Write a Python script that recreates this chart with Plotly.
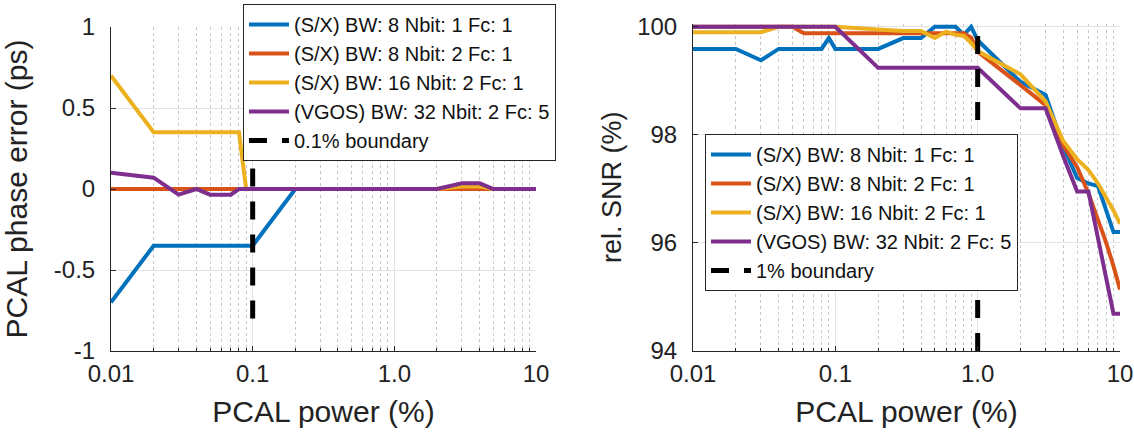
import plotly.graph_objects as go

# ---------------- data ----------------
pcal_power = [0.01, 0.02, 0.03, 0.04, 0.05, 0.06, 0.07, 0.08, 0.09, 0.1,
              0.2, 0.3, 0.4, 0.5, 0.6, 0.7, 0.8, 0.9, 1.0,
              2, 3, 4, 5, 6, 7, 8, 9, 10]

series_names = ["(S/X) BW: 8 Nbit: 1 Fc: 1",
                "(S/X) BW: 8 Nbit: 2 Fc: 1",
                "(S/X) BW: 16 Nbit: 2 Fc: 1",
                "(VGOS) BW: 32 Nbit: 2 Fc: 5"]
series_colors = ["#0072BD", "#D95319", "#EDB120", "#7E2F8E"]

# phase error (ps)
phase_sx8_1 = [-0.70, -0.35, -0.35, -0.35, -0.35, -0.35, -0.35, -0.35, -0.35, -0.35,
               0, 0, 0, 0, 0, 0, 0, 0, 0,
               0, 0, 0, 0, 0, 0, 0, 0, 0]
phase_sx8_2 = [0, 0, 0, 0, 0, 0, 0, 0, 0, 0,
               0, 0, 0, 0, 0, 0, 0, 0, 0,
               0, 0, 0, 0, 0, 0, 0, 0, 0]
phase_sx16_2 = [0.70, 0.35, 0.35, 0.35, 0.35, 0.35, 0.35, 0.35, 0, 0,
                0, 0, 0, 0, 0, 0, 0, 0, 0,
                0, 0.015, 0.015, 0, 0, 0, 0, 0, 0]
phase_vgos = [0.10, 0.07, -0.035, 0, -0.035, -0.035, -0.035, 0, 0, 0,
              0, 0, 0, 0, 0, 0, 0, 0, 0,
              0, 0.035, 0.035, 0, 0, 0, 0, 0, 0]

# relative SNR (%)
snr_sx8_1 = [99.59, 99.59, 99.38, 99.59, 99.59, 99.59, 99.59, 99.59, 99.79, 99.59,
             99.59, 99.79, 99.79, 100.0, 100.0, 100.0, 99.85, 100.0, 99.75,
             98.98, 98.74, 97.78, 97.2, 97.1, 97.05, 96.6, 96.2, 96.2]
snr_sx8_2 = [100.0, 100.0, 100.0, 100.0, 100.0, 99.88, 99.88, 99.88, 99.88, 99.88,
             99.88, 99.88, 99.88, 99.88, 99.88, 99.88, 99.88, 99.8, 99.54,
             98.92, 98.55, 97.8, 97.4, 96.92, 96.45, 96.0, 95.57, 95.14]
snr_sx16_2 = [99.9, 99.9, 99.9, 100.0, 100.0, 100.0, 100.0, 100.0, 100.0, 100.0,
              99.95, 99.92, 99.92, 99.79, 99.91, 99.85, 99.83, 99.7, 99.55,
              99.12, 98.62, 97.88, 97.55, 97.35, 97.1, 96.85, 96.6, 96.35]
snr_vgos = [100.0, 100.0, 100.0, 100.0, 100.0, 100.0, 100.0, 100.0, 100.0, 100.0,
            99.24, 99.24, 99.24, 99.24, 99.24, 99.24, 99.24, 99.24, 99.24,
            98.49, 98.49, 97.6, 96.95, 96.95, 96.1, 95.35, 94.69, 94.69]

boundary_left_x = [0.1, 0.1]
boundary_left_y = [-0.8, 1.0]
boundary_right_x = [1.0, 1.0]
boundary_right_y = [94.0, 99.85]

x_tickvals = [0.01, 0.1, 1.0, 10]
x_ticktext = ["0.01", "0.1", "1.0", "10"]
left_yticks = [-1, -0.5, 0, 0.5, 1]
left_yticktext = ["-1", "-0.5", "0", "0.5", "1"]
right_yticks = [94, 96, 98, 100]

# ---------------- figure ----------------
FONT = "Liberation Sans, Arial, Helvetica, sans-serif"
fig = go.Figure()

phase_series = [phase_sx8_1, phase_sx8_2, phase_sx16_2, phase_vgos]
snr_series = [snr_sx8_1, snr_sx8_2, snr_sx16_2, snr_vgos]

for name, col, ys in zip(series_names, series_colors, phase_series):
    fig.add_trace(go.Scatter(x=pcal_power, y=ys, mode="lines", name=name,
                             line=dict(color=col, width=4),
                             xaxis="x", yaxis="y", legend="legend"))
fig.add_trace(go.Scatter(x=boundary_left_x, y=boundary_left_y, mode="lines",
                         name="0.1% boundary",
                         line=dict(color="black", width=5, dash="18px,15px"),
                         xaxis="x", yaxis="y", legend="legend"))

for name, col, ys in zip(series_names, series_colors, snr_series):
    fig.add_trace(go.Scatter(x=pcal_power, y=ys, mode="lines", name=name,
                             line=dict(color=col, width=4),
                             xaxis="x2", yaxis="y2", legend="legend2"))
fig.add_trace(go.Scatter(x=boundary_right_x, y=boundary_right_y, mode="lines",
                         name="1% boundary",
                         line=dict(color="black", width=5, dash="18px,15px"),
                         xaxis="x2", yaxis="y2", legend="legend2"))

AXCOL = "#262626"
GRID = "#e3e3e3"
MINGRID = "#c8c8c8"
TXT = "#222222"
TICK_SIZE = 24

def xaxis_cfg(domain, anchor):
    return dict(
        type="log", range=[-2, 1], domain=domain, anchor=anchor,
        tickvals=x_tickvals, ticktext=x_ticktext,
        showline=True, linecolor=AXCOL, linewidth=1, mirror=False,
        ticks="inside", ticklen=5, tickcolor=AXCOL,
        showgrid=True, gridcolor=GRID, gridwidth=1,
        minor=dict(dtick="D1", ticks="inside", ticklen=3, tickcolor=AXCOL,
                   showgrid=True, gridcolor=MINGRID, griddash="dot", gridwidth=1),
        tickfont=dict(family=FONT, size=TICK_SIZE, color=TXT),
        ticklabelstandoff=1, ticklabeloverflow="allow",
        title=dict(text="PCAL power (%)", font=dict(family=FONT, size=30, color=TXT),
                   standoff=15),
        zeroline=False, automargin=False,
    )

def yaxis_cfg(domain, anchor, rng, tickvals, ticktext, title, tsize, standoff):
    return dict(
        range=rng, domain=domain, anchor=anchor,
        tickvals=tickvals, ticktext=ticktext,
        showline=True, linecolor=AXCOL, linewidth=1, mirror=False,
        ticks="inside", ticklen=5, tickcolor=AXCOL,
        showgrid=True, gridcolor=GRID, gridwidth=1,
        tickfont=dict(family=FONT, size=TICK_SIZE, color=TXT),
        ticklabelstandoff=10, ticklabeloverflow="allow",
        title=dict(text=title, font=dict(family=FONT, size=tsize, color=TXT),
                   standoff=standoff),
        zeroline=False, automargin=False,
    )

W, H = 1134, 432
LEG_FONT = dict(family=FONT, size=20, color="#111111")
fig.update_layout(
    width=W, height=H,
    margin=dict(l=0, r=0, t=0, b=0),
    paper_bgcolor="white", plot_bgcolor="white",
    font=dict(family=FONT, size=20, color="#111111"),
    xaxis=xaxis_cfg([111 / W, 536 / W], "y"),
    yaxis=yaxis_cfg([1 - 351 / H, 1 - 27 / H], "x", [-1, 1],
                    left_yticks, left_yticktext, "PCAL phase error (ps)", 30, 26),
    xaxis2=xaxis_cfg([693 / W, 1120 / W], "y2"),
    yaxis2=yaxis_cfg([1 - 351 / H, 1 - 23.5 / H], "x2", [94, 100.06],
                     right_yticks, [str(v) for v in right_yticks], "rel. SNR (%)", 27, 7),
    legend=dict(x=243 / W, y=1 - 4 / H, xanchor="left", yanchor="top",
                bgcolor="white", bordercolor=AXCOL, borderwidth=1,
                font=LEG_FONT, itemwidth=40, tracegroupgap=0),
    legend2=dict(x=705 / W, y=1 - 134 / H, xanchor="left", yanchor="top",
                 bgcolor="white", bordercolor=AXCOL, borderwidth=1,
                 font=LEG_FONT, itemwidth=40, tracegroupgap=0),
    showlegend=True,
)

# remove the browser's default 8px body margin so the figure starts at the page corner
fig.write_html("out.html",
               config={"displayModeBar": False},
               post_script="document.body.style.margin='0px';"
                           "document.body.style.overflow='hidden';")
